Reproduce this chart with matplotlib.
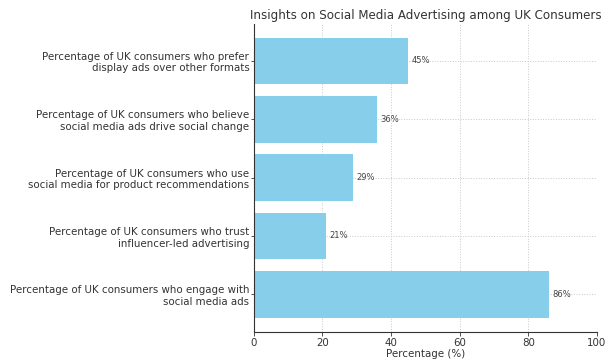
import matplotlib
matplotlib.use("Agg")
import matplotlib.pyplot as plt

# bottom to top, as drawn
labels = [
    "Percentage of UK consumers who engage with\nsocial media ads",
    "Percentage of UK consumers who trust\ninfluencer-led advertising",
    "Percentage of UK consumers who use\nsocial media for product recommendations",
    "Percentage of UK consumers who believe\nsocial media ads drive social change",
    "Percentage of UK consumers who prefer\ndisplay ads over other formats",
]
values = [86, 21, 29, 36, 45]

fig = plt.figure(figsize=(6.16, 3.63), dpi=100)
ax = fig.add_axes([0.412, 0.0862, 0.557, 0.849])

bars = ax.barh(labels, values, color="skyblue", height=0.8, zorder=2)
for b, v in zip(bars, values):
    ax.text(b.get_width() + 1, b.get_y() + b.get_height() / 2, f"{v}%",
            va="center", ha="left", fontsize=6, color="#444444")

ax.set_xlim(0, 100)
ax.set_xlabel("Percentage (%)", fontsize=7.4, color="#333333", labelpad=1)
ax.set_title("Insights on Social Media Advertising among UK Consumers",
             fontsize=8.55, color="#333333", pad=3.5)
ax.tick_params(axis="x", labelsize=7.4, colors="#333333", length=3, width=0.6, pad=1.5)
ax.tick_params(axis="y", labelsize=7.35, colors="#333333", length=2, width=0.6, pad=1.2)
ax.grid(True, linestyle=":", linewidth=0.7, color="#c8c8c8", zorder=0)
ax.set_axisbelow(True)
for s in ["top", "right"]:
    ax.spines[s].set_visible(False)
for s in ["left", "bottom"]:
    ax.spines[s].set_color("#333333")
    ax.spines[s].set_linewidth(0.8)

fig.savefig("out.png", dpi=100)
